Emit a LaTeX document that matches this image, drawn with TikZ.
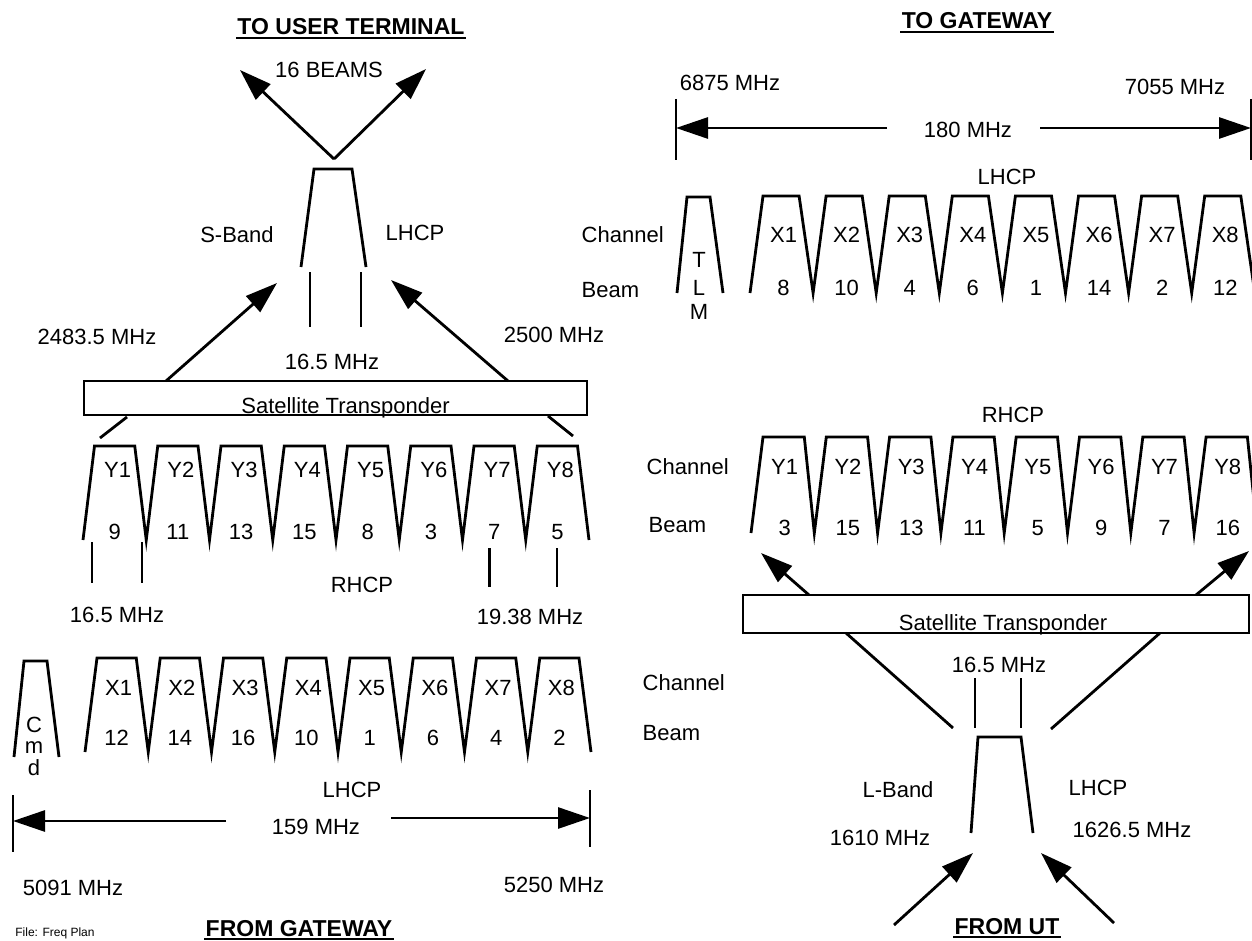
\documentclass[tikz,border=0pt]{standalone}
\usepackage{fontspec}
\setmainfont{Liberation Sans}
\usetikzlibrary{arrows.meta,calc}

\begin{document}
\begin{tikzpicture}[x=1pt, y=-1pt, line width=2.8pt, font=\fontsize{22}{26}\selectfont,
  hdg/.style={font=\fontsize{23}{26}\selectfont\bfseries, inner sep=0pt, anchor=base},
  arr/.style={-{Triangle[length=32pt,width=21pt]}},
  flt/.style={line join=miter, miter limit=30},
  xpond/.style={draw, inner xsep=0pt, inner ysep=0pt},
  side/.style={anchor=west}]
\useasboundingbox (0,0) rectangle (1252,941);

% ---------------- downlink to user terminal (S-band)
\node[hdg] (toUT) at (351,35) {TO USER TERMINAL};
\draw[line width=2pt] ([yshift=-3pt]toUT.base west) -- ([yshift=-3pt]toUT.base east);
\node (beams) at (329,70) {16 BEAMS};
\coordinate (vtx) at (334,159);
\coordinate (bmL) at (240,70);
\coordinate (bmR) at (426,69);
\draw[arr] (vtx) -- (bmL);
\draw[arr] (vtx) -- (bmR);
\draw[flt] (301,267) -- (314,169) -- (352,169) -- (366,267);
\draw (310,272) -- (310,327) (361,272) -- (361,327);
\node (sband) at (237,235) {S-Band};
\node (sPol) at (415,233) {LHCP};
\node (fLo) at (97,337) {2483.5 MHz};
\node (fHi) at (554,335) {2500 MHz};
\node (sBw) at (332,362) {16.5 MHz};

\node[xpond, minimum width=503pt, text height=32pt, text depth=2pt] (satL) at (335.5,398) {\hspace*{20pt}Satellite Transponder};
\coordinate (upL0) at (166,381);
\coordinate (upL1) at (277,283);
\coordinate (upR0) at (508,381);
\coordinate (upR1) at (391,280);
\draw[arr] (upL0) -- (upL1);
\draw[arr] (upR0) -- (upR1);
\draw (127,417) -- (100,438) (548,416) -- (573,436);

% Y channels, RHCP
\draw[flt] (83,540) \foreach \k in {1,...,8}{ -- ({83+63.25*(\k-1)+11.5},446) -- ({83+63.25*\k-11.5},446) -- ({83+63.25*\k},540)};
\foreach \b [count=\k] in {9,11,13,15,8,3,7,5}{
  \node (ylA\k) at ({83+63.25*(\k-0.5)+3},470) {Y\k};
  \node (ybA\k) at ({83+63.25*(\k-0.5)},532) {\b};
}
\draw (92,542) -- (92,583) (142,542) -- (142,583);
\draw (489.5,548) -- (489.5,587) (557,548) -- (557,587);
\node (rhcpA) at (362,585) {RHCP};
\node (bwA) at (117,615) {16.5 MHz};
\node (bwB) at (530,617) {19.38 MHz};

% X channels, LHCP (from gateway)
\draw[flt] (14,757) -- (24,661) -- (47,661) -- (59,757);
\node (cmdC) at (34,725) {C};
\node (cmdM) at (34,748) {m};
\node (cmdD) at (34,768) {d};
\draw[flt] (85,752) \foreach \k in {1,...,8}{ -- ({85+63.25*(\k-1)+12},658) -- ({85+63.25*\k-12},658) -- ({85+63.25*\k},752)};
\foreach \b [count=\k] in {12,14,16,10,1,6,4,2}{
  \node (xlA\k) at ({85+63.25*(\k-0.5)+2},688) {X\k};
  \node (xbA\k) at ({85+63.25*(\k-0.5)},738) {\b};
}
\node[side] (chC) at (638,683) {Channel};
\node[side] (bmC) at (638,733) {Beam};
\node (lhcpA) at (352,790) {LHCP};
\draw (13,795) -- (13,852) (590,790) -- (590,847);
\node (spanA) at (316,827) {159 MHz};
\coordinate (spA0) at (226,821);
\coordinate (spA1) at (13,821);
\coordinate (spA2) at (391,818);
\coordinate (spA3) at (590,818);
\draw[arr] (spA0) -- (spA1);
\draw[arr] (spA2) -- (spA3);
\node (loA) at (73,888) {5091 MHz};
\node (hiA) at (554,885) {5250 MHz};
\node[anchor=base west, font=\fontsize{12}{14}\selectfont, inner sep=0pt] (file) at (14,936) {File: Freq Plan};
\node[hdg] (fromGW) at (299,936) {FROM GATEWAY};
\draw[line width=2pt] ([yshift=-3pt]fromGW.base west) -- ([yshift=-3pt]fromGW.base east);

% ---------------- downlink to gateway
\node[hdg] (toGW) at (977,29) {TO GATEWAY};
\draw[line width=2pt] ([yshift=-3pt]toGW.base west) -- ([yshift=-3pt]toGW.base east);
\node (loB) at (730,83) {6875 MHz};
\node (hiB) at (1175,87) {7055 MHz};
\draw (676,99) -- (676,160) (1251,99) -- (1251,160);
\node (spanB) at (968,130) {180 MHz};
\coordinate (spB0) at (887,128);
\coordinate (spB1) at (676,128);
\coordinate (spB2) at (1040,128);
\coordinate (spB3) at (1251,128);
\draw[arr] (spB0) -- (spB1);
\draw[arr] (spB2) -- (spB3);
\node (lhcpB) at (1007,177) {LHCP};
\node[side] (chB) at (577,235) {Channel};
\node[side] (bmB) at (577,290) {Beam};
\draw[flt] (677,293) -- (687,197) -- (710,197) -- (723,293);
\node (tlmT) at (699,260) {T};
\node (tlmL) at (699,288) {L};
\node (tlmM) at (699,312) {M};
\draw[flt] (750,293) \foreach \k in {1,...,8}{ -- ({750+63.1*(\k-1)+13},196) -- ({750+63.1*\k-14},196) -- ({750+63.1*\k},293)};
\foreach \b [count=\k] in {8,10,4,6,1,14,2,12}{
  \node (xlB\k) at ({750+63.1*(\k-0.5)+2},235) {X\k};
  \node (xbB\k) at ({750+63.1*(\k-0.5)+2},288) {\b};
}

% Y channels, RHCP (uplink from UT)
\node (rhcpB) at (1013,415) {RHCP};
\node[side] (chD) at (642,467) {Channel};
\node[side] (bmD) at (644,525) {Beam};
\draw[flt] (751,533) \foreach \k in {1,...,8}{ -- ({751+63.3*(\k-1)+12},437) -- ({751+63.3*\k-10},437) -- ({751+63.3*\k},533)};
\foreach \b [count=\k] in {3,15,13,11,5,9,7,16}{
  \node (ylB\k) at ({751+63.3*(\k-0.5)+2},467) {Y\k};
  \node (ybB\k) at ({751+63.3*(\k-0.5)+2},528) {\b};
}
\node[xpond, minimum width=506pt, text height=35pt, text depth=3pt] (satR) at (996,614) {\hspace*{14pt}Satellite Transponder};
\coordinate (dnL0) at (809,595);
\coordinate (dnL1) at (761,553);
\coordinate (dnR0) at (1196,595);
\coordinate (dnR1) at (1249,551);
\draw[arr] (dnL0) -- (dnL1);
\draw[arr] (dnR0) -- (dnR1);
\draw (846,633) -- (953,728) (1160,633) -- (1051,729);
\node (lBw) at (999,665) {16.5 MHz};
\draw (975,678) -- (975,728) (1021,678) -- (1021,728);
\draw[flt] (971,833) -- (978,737) -- (1021,737) -- (1033,833);
\node (lband) at (898,790) {L-Band};
\node (lPol) at (1098,788) {LHCP};
\node (lLo) at (880,838) {1610 MHz};
\node (lHi) at (1132,830) {1626.5 MHz};
\coordinate (inL0) at (894,925);
\coordinate (inL1) at (973,853);
\coordinate (inR0) at (1114,923);
\coordinate (inR1) at (1041,853);
\draw[arr] (inL0) -- (inL1);
\draw[arr] (inR0) -- (inR1);
\node[hdg] (fromUT) at (1007,934) {FROM UT};
\draw[line width=2pt] ([yshift=-3pt]fromUT.base west) -- ([yshift=-3pt]fromUT.base east);
\end{tikzpicture}
\end{document}
